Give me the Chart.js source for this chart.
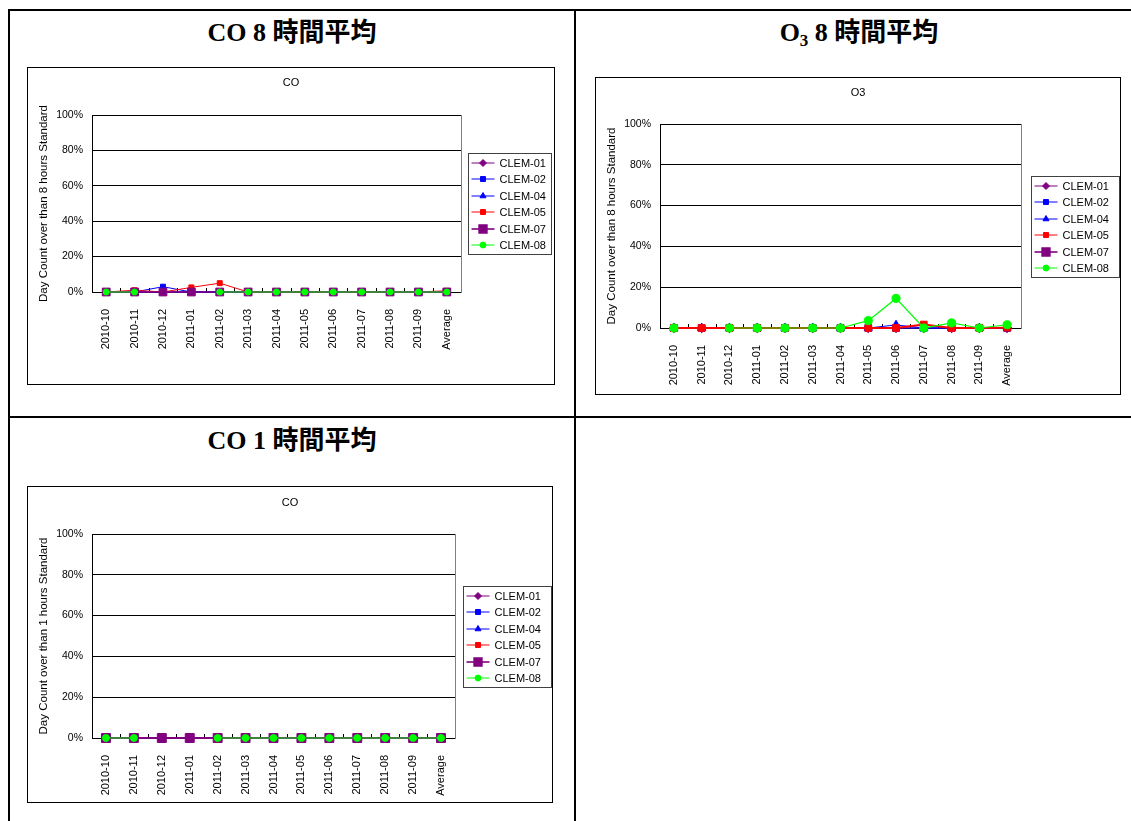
<!DOCTYPE html>
<html>
<head>
<meta charset="utf-8">
<script src="https://cdn.jsdelivr.net/npm/chart.js@4.4.1/dist/chart.umd.min.js"></script>
<style>
  html, body { margin: 0; padding: 0; background: #fff; }
  body { width: 1131px; height: 821px; position: relative; overflow: hidden; }
  .rule { position: absolute; background: #000; }
  .head {
    position: absolute; color: #000; text-align: center;
    font-family: "Liberation Serif", "Noto Sans CJK TC", serif;
    font-weight: bold; font-size: 26px; line-height: 30px; white-space: nowrap;
  }
  .head sub { font-size: 17px; vertical-align: -5px; line-height: 0; }
  .frame { position: absolute; border: 1px solid #000; background: #fff; }
  .frame canvas { display: block; }
</style>
</head>
<body>
<!-- table rules -->
<div class="rule" style="left:8px;top:9px;width:1140px;height:2px"></div>
<div class="rule" style="left:8px;top:9px;width:2px;height:820px"></div>
<div class="rule" style="left:574px;top:9px;width:2px;height:820px"></div>
<div class="rule" style="left:8px;top:416px;width:1140px;height:2px"></div>

<div class="head" style="left:10px;top:18px;width:564px">CO 8 時間平均</div>
<div class="head" style="left:576px;top:18px;width:566px">O<sub>3</sub> 8 時間平均</div>
<div class="head" style="left:10px;top:426px;width:564px">CO 1 時間平均</div>

<div class="frame" style="left:27px;top:67px;width:526px;height:316px"><canvas id="co8" width="526" height="316"></canvas></div>
<div class="frame" style="left:595px;top:77px;width:524px;height:316px"><canvas id="o38" width="524" height="316"></canvas></div>
<div class="frame" style="left:27px;top:486px;width:524px;height:315px"><canvas id="co1" width="524" height="315"></canvas></div>

<script>
// Months on the category axis
const categories = ['2010-10','2010-11','2010-12','2011-01','2011-02','2011-03',
                    '2011-04','2011-05','2011-06','2011-07','2011-08','2011-09','Average'];
const stations = ['CLEM-01','CLEM-02','CLEM-04','CLEM-05','CLEM-07','CLEM-08'];
const yTicks = [0, 20, 40, 60, 80, 100];

// CO, days over the 8-hour standard (%)
const co8_clem01 = [0,0,0,0,0,0,0,0,0,0,0,0,0];
const co8_clem02 = [0,0,3,0,0,0,0,0,0,0,0,0,0.3];
const co8_clem04 = [0,0,0,0,0,0,0,0,0,0,0,0,0];
const co8_clem05 = [0,1,0,2.6,5,0,0,0,0,0,0,0,0.7];
const co8_clem07 = [0,0,0,0,0,0,0,0,0,0,0,0,0];
const co8_clem08 = [0,0,null,null,0,0,0,0,0,0,0,0,0];

// O3, days over the 8-hour standard (%); CLEM-07 has no O3 record
const o38_clem01 = [0,0,0,0,0,0,0,0,0,0,0,0,0];
const o38_clem02 = [0,0,0,0,0,0,0,0,0,0,0,0,0];
const o38_clem04 = [0,0,0,0,0,0,0,0,1.5,0,0,0,0.1];
const o38_clem05 = [0,0,0,0,0,0,0,0,0,1.7,0,0,0.15];
const o38_clem07 = [null,null,null,null,null,null,null,null,null,null,null,null,null];
const o38_clem08 = [0,null,0,0,0,0,0,3.6,14.5,0,2.5,0,1.6];

// CO, days over the 1-hour standard (%)
const co1_clem01 = [0,0,0,0,0,0,0,0,0,0,0,0,0];
const co1_clem02 = [0,0,0,0,0,0,0,0,0,0,0,0,0];
const co1_clem04 = [0,0,0,0,0,0,0,0,0,0,0,0,0];
const co1_clem05 = [0,0,0,0,0,0,0,0,0,0,0,0,0];
const co1_clem07 = [0,0,0,0,0,0,0,0,0,0,0,0,0];
const co1_clem08 = [0,0,null,null,0,0,0,0,0,0,0,0,0];

// Per-station line and marker look
const stationStyle = [
  { line: '#800080', fill: '#800080', shape: 'rectRot',  r: 3.5, w: 1 },
  { line: '#0000FF', fill: '#0000FF', shape: 'rect',     r: 3.5, w: 1 },
  { line: '#0000FF', fill: '#0000FF', shape: 'triangle', r: 3.5, w: 1 },
  { line: '#FF0000', fill: '#FF0000', shape: 'rect',     r: 3.5, w: 1 },
  { line: '#800080', fill: '#800080', shape: 'rect',     r: 5.5, w: 1.6 },
  { line: '#00FF00', fill: '#00FF00', shape: 'circle',   r: 3,   w: 1 }
];

const SANS = '"Liberation Sans", Arial, sans-serif';

// Caption centred over the whole chart box
const caption = {
  id: 'caption',
  afterDraw(chart, args, opts) {
    const { ctx } = chart;
    ctx.save();
    ctx.font = '11px ' + SANS;
    ctx.fillStyle = '#000';
    ctx.textAlign = 'center';
    ctx.textBaseline = 'middle';
    ctx.fillText(opts.text, chart.width / 2, opts.y);
    ctx.restore();
  }
};

// Plot frame: grey right edge plus short category ticks inside the axis
const plotDecor = {
  id: 'plotDecor',
  beforeDatasetsDraw(chart) {
    const { ctx, chartArea: a } = chart;
    const xs = chart.scales.x;
    const n = xs.ticks.length;
    const step = (xs.right - xs.left) / n;
    ctx.save();
    ctx.lineWidth = 1;
    ctx.strokeStyle = '#808080';
    ctx.beginPath();
    const rx = Math.round(a.right) + 0.5;
    ctx.moveTo(rx, Math.round(a.top));
    ctx.lineTo(rx, Math.round(a.bottom) + 1);
    ctx.stroke();
    ctx.strokeStyle = '#000';
    ctx.beginPath();
    for (let i = 1; i < n; i++) {
      const x = Math.round(xs.left + i * step) + 0.5;
      ctx.moveTo(x, Math.round(a.bottom));
      ctx.lineTo(x, Math.round(a.bottom) - 4);
    }
    ctx.stroke();
    ctx.restore();
  }
};

// Boxed key at the right of the plot: line sample, marker, station name
const sideKey = {
  id: 'sideKey',
  afterDraw(chart, args, opts) {
    const { ctx, chartArea: a } = chart;
    const sets = chart.data.datasets;
    const rowH = 16.5;
    const boxH = Math.round(sets.length * rowH + 2);
    const left = Math.round(a.right + opts.gap) + 0.5;
    const top = Math.round((a.top + a.bottom) / 2 - boxH / 2) + 0.5;
    ctx.save();
    ctx.lineWidth = 1;
    ctx.strokeStyle = '#404040';
    ctx.strokeRect(left, top, opts.width, boxH);
    ctx.font = '11px ' + SANS;
    ctx.textBaseline = 'middle';
    ctx.textAlign = 'left';
    sets.forEach((ds, i) => {
      const st = stationStyle[i];
      const y = Math.round(top + 1 + rowH * (i + 0.5));
      ctx.strokeStyle = st.line;
      ctx.lineWidth = st.w;
      ctx.beginPath();
      ctx.moveTo(left + 3, y);
      ctx.lineTo(left + 26, y);
      ctx.stroke();
      ctx.fillStyle = st.fill;
      ctx.strokeStyle = st.fill;
      Chart.helpers.drawPoint(ctx, { pointStyle: st.shape, radius: st.r, rotation: 0, borderWidth: 1 }, left + 14.5, y);
      ctx.fillStyle = '#000';
      ctx.fillText(ds.label, left + 31, y + 1);
    });
    ctx.restore();
  }
};

function makeChart(id, title, yTitle, series, look) {
  const datasets = series.map((values, i) => {
    const st = stationStyle[i];
    const w = (look.lineWidth && look.lineWidth[i]) || st.w;
    return {
      label: stations[i],
      data: values,
      borderColor: st.line,
      backgroundColor: st.fill,
      borderWidth: w,
      pointStyle: st.shape,
      pointRadius: st.r * look.marker,
      pointBackgroundColor: st.fill,
      pointBorderColor: st.fill,
      pointBorderWidth: 1,
      tension: 0,
      spanGaps: false,
      clip: false,
      order: series.length - i
    };
  });
  return new Chart(document.getElementById(id), {
    type: 'line',
    data: { labels: categories, datasets },
    plugins: [plotDecor, sideKey, caption],
    options: {
      responsive: false,
      animation: false,
      events: [],
      layout: { padding: { left: 0, right: look.right, top: look.top, bottom: 0 } },
      plugins: {
        legend: { display: false },
        tooltip: { enabled: false },
        title: { display: false },
        caption: { text: title, y: look.captionY },
        sideKey: { gap: look.keyGap, width: look.keyWidth }
      },
      scales: {
        x: {
          type: 'category',
          offset: true,
          grid: { display: false, offset: true },
          border: { display: true, color: '#000', width: 1 },
          ticks: {
            color: '#000', font: { family: SANS, size: 11 },
            minRotation: 90, maxRotation: 90, padding: 9, autoSkip: false
          },
          afterFit(s) { s.height = look.xHeight; }
        },
        y: {
          min: 0, max: 100,
          afterBuildTicks(s) { s.ticks = yTicks.map(v => ({ value: v })); },
          grid: { color: '#000', lineWidth: 1, drawTicks: false },
          border: { display: true, color: '#000', width: 1 },
          ticks: {
            color: '#000', font: { family: SANS, size: 10.5 }, padding: 9,
            callback: v => v + '%'
          },
          title: {
            display: true, text: yTitle, color: '#000',
            font: { family: SANS, size: 11.5 },
            padding: { top: 9, bottom: 0 }
          },
          afterFit(s) { s.width = 64; }
        }
      }
    }
  });
}

makeChart('co8', 'CO', 'Day Count over than 8 hours Standard',
  [co8_clem01, co8_clem02, co8_clem04, co8_clem05, co8_clem07, co8_clem08],
  { marker: 1.0, right: 93, top: 47, captionY: 15, xHeight: 92, keyGap: 7, keyWidth: 83 });

makeChart('o38', 'O3', 'Day Count over than 8 hours Standard',
  [o38_clem01, o38_clem02, o38_clem04, o38_clem05, o38_clem07, o38_clem08],
  { marker: 1.35, right: 99, top: 46, captionY: 15, xHeight: 66, keyGap: 10, keyWidth: 88,
    lineWidth: [1, 1, 1, 2, 1.6, 1.2] });

makeChart('co1', 'CO', 'Day Count over than 1 hours Standard',
  [co1_clem01, co1_clem02, co1_clem04, co1_clem05, co1_clem07, co1_clem08],
  { marker: 1.15, right: 97, top: 47, captionY: 16, xHeight: 64, keyGap: 8, keyWidth: 88,
    lineWidth: [1, 1, 1, 1, 2, 1] });
</script>
</body>
</html>
